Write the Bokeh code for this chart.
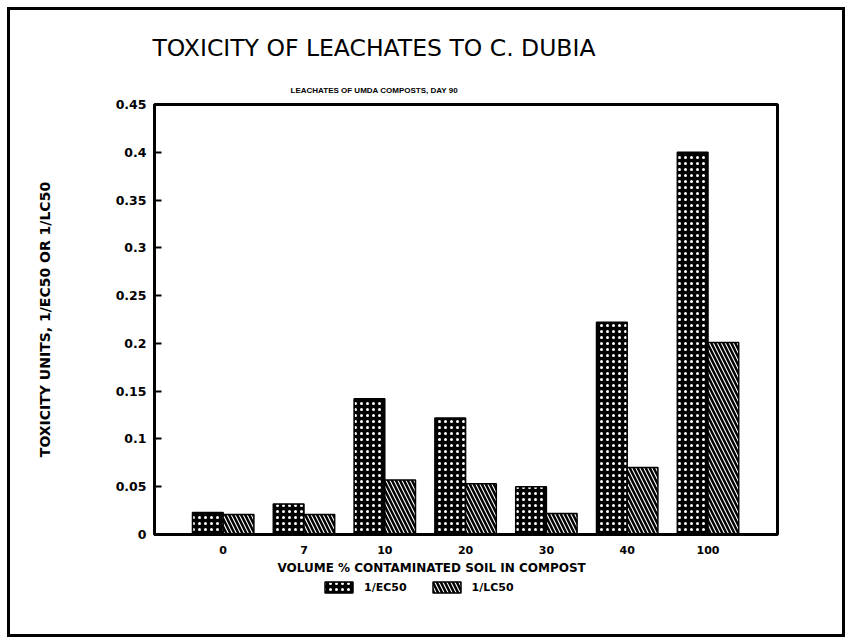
from bokeh.plotting import figure
from bokeh.models import (ColumnDataSource, FixedTicker, Legend, LegendItem, Title,
                          Range1d, CustomJSTickFormatter)
from bokeh.layouts import column
from bokeh.embed import file_html
from bokeh.resources import INLINE

categories = ["0", "7", "10", "20", "30", "40", "100"]
ec50 = [0.023, 0.032, 0.142, 0.122, 0.050, 0.222, 0.400]
lc50 = [0.021, 0.021, 0.057, 0.053, 0.022, 0.070, 0.201]
y_ticks = [0, 0.05, 0.1, 0.15, 0.2, 0.25, 0.3, 0.35, 0.4, 0.45]
y_tick_labels = ["0", "0.05", "0.1", "0.15", "0.2", "0.25", "0.3", "0.35", "0.4", "0.45"]
series_labels = ["1/EC50", "1/LC50"]

idx = list(range(len(categories)))
bar_w = 0.38
src = ColumnDataSource(dict(
    x_ec=[i - bar_w / 2 for i in idx],
    x_lc=[i + bar_w / 2 for i in idx],
    ec=ec50, lc=lc50, cat=categories,
))

EC_STYLE = dict(fill_color="black", line_color="black", line_width=1.5,
                hatch_pattern="dot", hatch_color="white", hatch_scale=6,
                hatch_weight=1.8)
LC_STYLE = dict(fill_color="white", line_color="black", line_width=1.5,
                hatch_pattern="left_diagonal_line", hatch_color="black",
                hatch_scale=8, hatch_weight=2.5)

W = 832
TOP, FH, BOT = 94, 430, 40
p = figure(frame_width=623, frame_height=FH, output_backend="svg", toolbar_location=None,
           x_range=Range1d(-0.85, 6.86), y_range=Range1d(0, 0.45),
           min_border_left=144, min_border_right=W - 144 - 623, min_border_top=TOP,
           min_border_bottom=BOT)

ec_r = p.vbar(x="x_ec", top="ec", width=bar_w, source=src, **EC_STYLE)
lc_r = p.vbar(x="x_lc", top="lc", width=bar_w, source=src, **LC_STYLE)

p.grid.visible = False
p.outline_line_color = "black"
p.outline_line_width = 3

# x axis
p.xaxis.ticker = FixedTicker(ticks=idx)
p.xaxis.formatter = CustomJSTickFormatter(args=dict(labels=categories),
                                          code="return labels[Math.round(tick)]")
p.xaxis.axis_line_width = 3
p.xaxis.major_tick_line_color = None
p.xaxis.minor_tick_line_color = None
p.xaxis.major_label_text_font = "DejaVu Sans"
p.xaxis.major_label_text_font_style = "bold"
p.xaxis.major_label_text_font_size = "11px"
p.xaxis.major_label_text_color = "black"
p.xaxis.major_label_standoff = 5

# y axis
p.yaxis.ticker = FixedTicker(ticks=y_ticks)
p.yaxis.major_label_overrides = {t: l for t, l in zip(y_ticks, y_tick_labels)}
p.yaxis.axis_line_width = 3
p.yaxis.major_tick_in = 7
p.yaxis.major_tick_out = 0
p.yaxis.major_tick_line_width = 2
p.yaxis.minor_tick_line_color = None
p.yaxis.major_label_text_font = "DejaVu Sans"
p.yaxis.major_label_text_font_style = "bold"
p.yaxis.major_label_text_font_size = "12.5px"
p.yaxis.major_label_text_color = "black"
p.yaxis.major_label_standoff = 8
p.yaxis.axis_label = "TOXICITY UNITS, 1/EC50 OR 1/LC50"
p.yaxis.axis_label_text_font = "DejaVu Sans"
p.yaxis.axis_label_text_font_style = "bold"
p.yaxis.axis_label_text_font_size = "14px"
p.yaxis.axis_label_text_color = "black"
p.yaxis.axis_label_standoff = 60

p.add_layout(Title(text="VOLUME % CONTAMINATED SOIL IN COMPOST", align="left",
                   text_font="DejaVu Sans", text_font_style="bold",
                   text_font_size="12px", text_color="black", offset=123,
                   standoff=4), "below")

p.add_layout(Title(text="LEACHATES OF UMDA COMPOSTS, DAY 90", align="left",
                   text_font="Liberation Sans", text_font_style="bold",
                   text_font_size="8px", text_color="black", offset=136,
                   standoff=20), "above")
p.add_layout(Title(text="TOXICITY OF LEACHATES TO C. DUBIA", align="left",
                   text_font="DejaVu Sans", text_font_style="normal",
                   text_font_size="23.5px", text_color="black", offset=-2,
                   standoff=24), "above")

# legend strip below the chart (its renderers are hidden; only the legend shows)
LH = 622 - (TOP + FH + BOT)
pl = figure(width=W, height=LH, output_backend="svg", toolbar_location=None,
            x_range=Range1d(-0.85, 6.86), y_range=Range1d(0, 0.45),
            min_border_left=0, min_border_right=0, min_border_top=0,
            min_border_bottom=0)
pl.axis.visible = False
pl.grid.visible = False
pl.outline_line_color = None
ec_leg = pl.vbar(x="x_ec", top="ec", width=bar_w, source=src, visible=False, **EC_STYLE)
lc_leg = pl.vbar(x="x_lc", top="lc", width=bar_w, source=src, visible=False, **LC_STYLE)
legend = Legend(items=[LegendItem(label=series_labels[0], renderers=[ec_leg]),
                       LegendItem(label=series_labels[1], renderers=[lc_leg])],
                orientation="horizontal", location=(167, 40),
                label_text_font="DejaVu Sans", label_text_font_style="bold",
                label_text_font_size="11px", label_text_color="black",
                glyph_width=35, glyph_height=14, label_standoff=8,
                spacing=22, padding=0, margin=0, border_line_color=None,
                background_fill_alpha=0, click_policy="none")
pl.add_layout(legend, "center")

layout = column(p, pl, spacing=0,
                styles={"margin-left": "10px", "margin-top": "10px",
                        "outline": "3px solid black"})

open("out.html", "w").write(file_html(layout, INLINE))
